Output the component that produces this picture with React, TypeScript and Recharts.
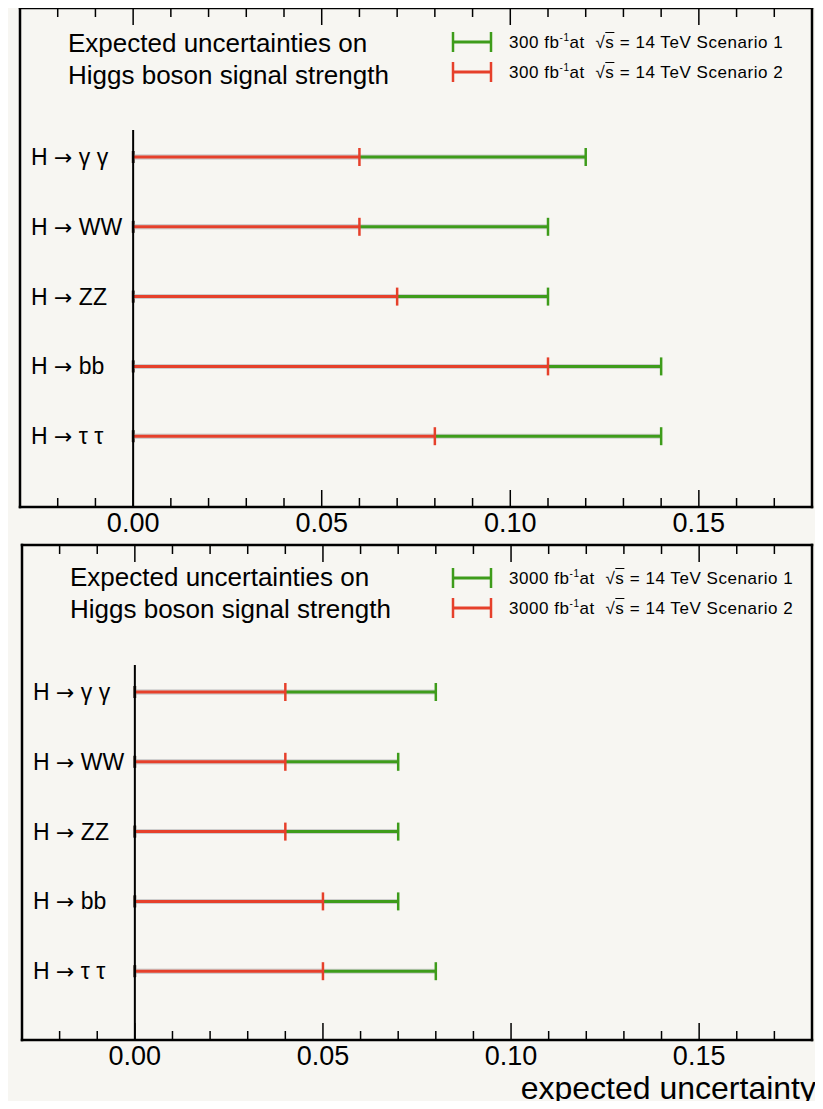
import React from 'react';
import { ComposedChart, Bar, XAxis, YAxis, ReferenceLine, Legend } from 'recharts';

// decay channels, top to bottom
const channels = ['H → γ γ', 'H → WW', 'H → ZZ', 'H → bb', 'H → τ τ'];

// expected uncertainty on the signal strength, 300 fb-1
const lumi300Scenario1 = [0.12, 0.11, 0.11, 0.14, 0.14];
const lumi300Scenario2 = [0.06, 0.06, 0.07, 0.11, 0.08];

// expected uncertainty on the signal strength, 3000 fb-1
const lumi3000Scenario1 = [0.08, 0.07, 0.07, 0.07, 0.08];
const lumi3000Scenario2 = [0.04, 0.04, 0.04, 0.05, 0.05];

const xDomain = [-0.03, 0.18];
const xTicks = [
  -0.02, -0.01, 0, 0.01, 0.02, 0.03, 0.04, 0.05, 0.06, 0.07, 0.08, 0.09, 0.1, 0.11, 0.12, 0.13,
  0.14, 0.15, 0.16, 0.17,
];
const xMajorTicks = [0, 0.05, 0.1, 0.15];

const GREEN = '#3e9c1b';
const RED = '#e6402b';
const INK = '#000';
const PAPER = '#f7f6f2';
const FONT = '"Liberation Sans", Arial, Helvetica, sans-serif';

function ErrorBarShape(props: any) {
  const { x, y, width, height, fill } = props;
  const cy = y + height / 2;
  const end = x + width;
  return (
    <g>
      <line x1={x} x2={end} y1={cy} y2={cy} stroke="#cdcdcd" strokeWidth={5} />
      <line x1={x} x2={end} y1={cy} y2={cy} stroke={fill} strokeWidth={3} />
      <line x1={end} x2={end} y1={cy - 9} y2={cy + 9} stroke={fill} strokeWidth={2.5} />
      <line x1={x} x2={x} y1={cy - 6} y2={cy + 6} stroke="#2b1a12" strokeWidth={2.5} />
    </g>
  );
}

function BottomTick(props: any) {
  const { x, y, payload } = props;
  const major = xMajorTicks.includes(payload.value);
  return (
    <g>
      <line x1={x} x2={x} y1={y} y2={y - (major ? 17 : 9)} stroke={INK} strokeWidth={1.5} />
      {major && (
        <text x={x} y={y + 25} textAnchor="middle" fontSize={27} fontFamily={FONT} fill={INK}>
          {payload.value.toFixed(2)}
        </text>
      )}
    </g>
  );
}

function TopTick(props: any) {
  const { x, y, payload } = props;
  const major = xMajorTicks.includes(payload.value);
  return <line x1={x} x2={x} y1={y} y2={y + (major ? 17 : 9)} stroke={INK} strokeWidth={1.5} />;
}

function ChannelTick(props: any) {
  const { y, payload, labelX } = props;
  const [lhs, rhs] = String(payload.value).split('→');
  return (
    <text x={labelX} y={y} dominantBaseline="central" fontSize={23} fontFamily={FONT} fill={INK}>
      <tspan>{lhs}</tspan>
      <tspan fontFamily="'DejaVu Sans', sans-serif" fontSize={22}>
        →
      </tspan>
      <tspan>{rhs}</tspan>
    </text>
  );
}

function LegendBody({ lumi }: { lumi: string }) {
  const rows: [string, string][] = [
    ['1', GREEN],
    ['2', RED],
  ];
  return (
    <div style={{ fontFamily: FONT, fontSize: 17, letterSpacing: 0.55, color: INK }}>
      {rows.map(([n, color]) => (
        <div key={n} style={{ display: 'flex', alignItems: 'center', height: 30 }}>
          <svg width={42} height={22}>
            <line x1={2} x2={40} y1={11} y2={11} stroke={color} strokeWidth={3} />
            <line x1={2} x2={2} y1={1} y2={21} stroke={color} strokeWidth={2.5} />
            <line x1={40} x2={40} y1={1} y2={21} stroke={color} strokeWidth={2.5} />
          </svg>
          <span style={{ marginLeft: 16, whiteSpace: 'nowrap' }}>
            {lumi} fb<sup style={{ fontSize: 10 }}>-1</sup>at&nbsp; √
            <span style={{ textDecoration: 'overline' }}>s</span> = 14 TeV Scenario {n}
          </span>
        </div>
      ))}
    </div>
  );
}

interface PanelProps {
  lumi: string;
  scenario1: number[];
  scenario2: number[];
  top: number;
  height: number;
  margin: { top: number; right: number; bottom: number; left: number };
  bandPadding: { top: number; bottom: number };
  zeroLineInset: number;
  titleTop: number;
  titleLeft: number;
  legendTop: number;
  showXTitle?: boolean;
}

function Panel(p: PanelProps) {
  const data = channels.map((name, i) => ({ name, s1: p.scenario1[i], s2: p.scenario2[i] }));
  const frame = { stroke: INK, strokeWidth: 2.5, strokeLinecap: 'square' as const };

  return (
    <div style={{ position: 'absolute', left: 0, top: p.top, width: 823, height: p.height }}>
      <ComposedChart
        width={823}
        height={p.height}
        data={data}
        layout="vertical"
        margin={p.margin}
        barGap={-20}
      >
        <XAxis
          type="number"
          domain={xDomain}
          ticks={xTicks}
          interval={0}
          allowDataOverflow
          height={36}
          tickSize={0}
          tickMargin={0}
          tickLine={false}
          axisLine={frame}
          tick={<BottomTick />}
        />
        <XAxis
          xAxisId="top"
          orientation="top"
          type="number"
          domain={xDomain}
          ticks={xTicks}
          interval={0}
          allowDataOverflow
          height={1}
          tickSize={0}
          tickMargin={0}
          tickLine={false}
          axisLine={frame}
          tick={<TopTick />}
        />
        <YAxis
          type="category"
          dataKey="name"
          mirror
          width={1}
          interval={0}
          tickSize={0}
          tickMargin={0}
          tickLine={false}
          axisLine={frame}
          padding={p.bandPadding}
          tick={<ChannelTick labelX={p.margin.left + 11} />}
        />
        <YAxis
          yAxisId="right"
          orientation="right"
          type="category"
          dataKey="name"
          width={1}
          tick={false}
          tickLine={false}
          axisLine={frame}
        />
        <Bar dataKey="s1" name="Scenario 1" fill={GREEN} barSize={20} shape={<ErrorBarShape />} isAnimationActive={false} />
        <Bar dataKey="s2" name="Scenario 2" fill={RED} barSize={20} shape={<ErrorBarShape />} isAnimationActive={false} />
        <ReferenceLine
          x={0}
          stroke={INK}
          shape={(lp: any) => (
            <line
              x1={lp.x1}
              x2={lp.x1}
              y1={Math.min(lp.y1, lp.y2) + p.zeroLineInset}
              y2={Math.max(lp.y1, lp.y2)}
              stroke={INK}
              strokeWidth={2}
            />
          )}
        />
        <Legend
          layout="vertical"
          align="center"
          verticalAlign="middle"
          content={() => <LegendBody lumi={p.lumi} />}
          wrapperStyle={{ top: p.legendTop, left: 451, width: 360 }}
        />
      </ComposedChart>
      <div
        style={{
          position: 'absolute',
          left: p.titleLeft,
          top: p.titleTop,
          fontFamily: FONT,
          fontSize: 26,
          lineHeight: '32px',
          color: INK,
        }}
      >
        Expected uncertainties on
        <br />
        Higgs boson signal strength
      </div>
      {p.showXTitle && (
        <div
          style={{
            position: 'absolute',
            right: 7,
            top: p.height - 34,
            fontFamily: FONT,
            fontSize: 32,
            lineHeight: '26px',
            color: INK,
          }}
        >
          expected uncertainty
        </div>
      )}
    </div>
  );
}

export default function App() {
  return (
    <div style={{ position: 'relative', width: 823, height: 1109, margin: -8, background: PAPER }}>
      <Panel
        lumi="300"
        scenario1={lumi300Scenario1}
        scenario2={lumi300Scenario2}
        top={0}
        height={540}
        margin={{ top: 7, right: 10, bottom: -3, left: 20 }}
        bandPadding={{ top: 114, bottom: 36 }}
        zeroLineInset={122}
        titleTop={27}
        titleLeft={68}
        legendTop={27}
      />
      <Panel
        lumi="3000"
        scenario1={lumi3000Scenario1}
        scenario2={lumi3000Scenario2}
        top={537}
        height={572}
        margin={{ top: 7, right: 10, bottom: 33, left: 22 }}
        bandPadding={{ top: 112, bottom: 34 }}
        zeroLineInset={120}
        titleTop={24}
        titleLeft={70}
        legendTop={26}
        showXTitle
      />
    </div>
  );
}
